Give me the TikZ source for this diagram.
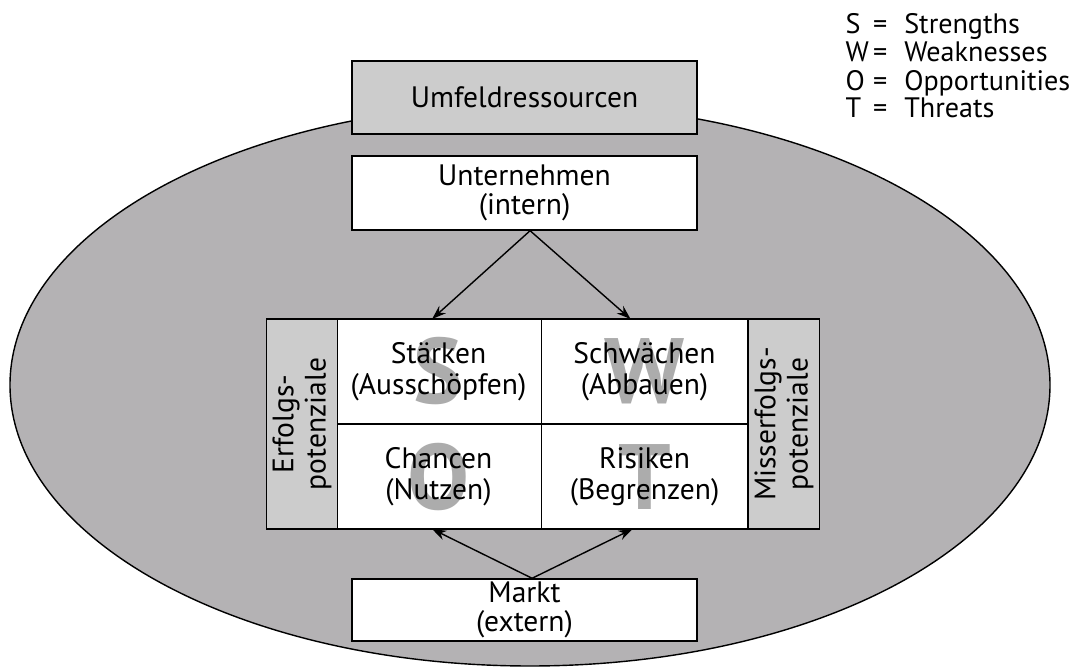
\documentclass[tikz,border=0pt]{standalone}
\usepackage{fontspec}
\setmainfont{PT Sans}
\usetikzlibrary{positioning,arrows.meta}
\definecolor{umfeld}{RGB}{180,178,180}
\definecolor{kasten}{RGB}{204,204,204}
\definecolor{buchstabe}{RGB}{172,172,172}

\begin{document}
\begin{tikzpicture}[x=0.025cm, y=-0.025cm, line width=1pt,
    box/.style = {draw, fill=white, minimum width=8.625cm, align=center, inner sep=0pt, font=\fontsize{21}{20.5}\selectfont},
    cell/.style = {draw, fill=white, minimum width=5.15cm, minimum height=2.625cm, inner sep=0pt, outer sep=0pt},
    celltext/.style = {align=center, inner sep=0pt, font=\fontsize{21}{22}\selectfont},
    strip/.style = {draw, fill=kasten, rotate=90, minimum width=5.25cm, minimum height=1.78cm, align=center, inner sep=0pt, font=\fontsize{21}{23}\selectfont},
    letter/.style = {text=buchstabe, inner sep=0pt, font=\fontsize{66}{66}\selectfont\bfseries},
    pfeil/.style = {-{Stealth[length=10pt, width=7pt]}}]
    \useasboundingbox (0,0) rectangle (1088,668);
    % Umfeld
    \draw[fill=umfeld] (530,385) ellipse [x radius=520, y radius=281];
    \node[box, fill=kasten, minimum height=1.825cm] (umf) at (524.5,97.5) {Umfeldressourcen};
    \node[box, minimum height=1.85cm] (unt) at (524.5,193) {Unternehmen\\(intern)};
    \node[box, minimum height=1.55cm] (markt) at (524.5,610) {Markt\\(extern)};
    % SWOT-Matrix
    \node[cell] (st) at (438.5,371.5) {};
    \node[cell] (sw) [right=0pt of st] {};
    \node[cell] (ch) [below=0pt of st] {};
    \node[cell] (ri) [right=0pt of ch] {};
    \foreach \feld/\buchst in {st/S, sw/W, ch/O, ri/T}
        \node[letter] at (\feld) {\buchst};
    \node[celltext] (st-t) at (st) {St\"arken\\(Aussch\"opfen)};
    \node[celltext] (sw-t) at (sw) {Schw\"achen\\(Abbauen)};
    \node[celltext] (ch-t) at (ch) {Chancen\\(Nutzen)};
    \node[celltext] (ri-t) at (ri) {Risiken\\(Begrenzen)};
    \node[strip] (erf) at (302,424) {Erfolgs-\\potenziale};
    \node[strip] (miss) at (784,424) {Misserfolgs-\\potenziale};
    % Pfeile
    \draw[pfeil] ([xshift=0.14cm]unt.south) -- ([xshift=-0.16cm]st.north);
    \draw[pfeil] ([xshift=0.14cm]unt.south) -- ([xshift=-0.35cm]sw.north);
    \draw[pfeil] ([xshift=0.19cm]markt.north) -- ([xshift=-0.16cm]ch.south);
    \draw[pfeil] ([xshift=0.19cm]markt.north) -- ([xshift=-0.3cm]ri.south);
    % Legende
    \node[anchor=base west, inner sep=0pt] (legende) at (845,34) {\fontsize{20}{19.4}\selectfont
        \begin{tabular}[t]{@{}l@{\hspace{3pt}}l@{\hspace{12pt}}l@{}}
            S & = & Strengths\\
            W & = & Weaknesses\\
            O & = & Opportunities\\
            T & = & Threats
        \end{tabular}};
\end{tikzpicture}
\end{document}
